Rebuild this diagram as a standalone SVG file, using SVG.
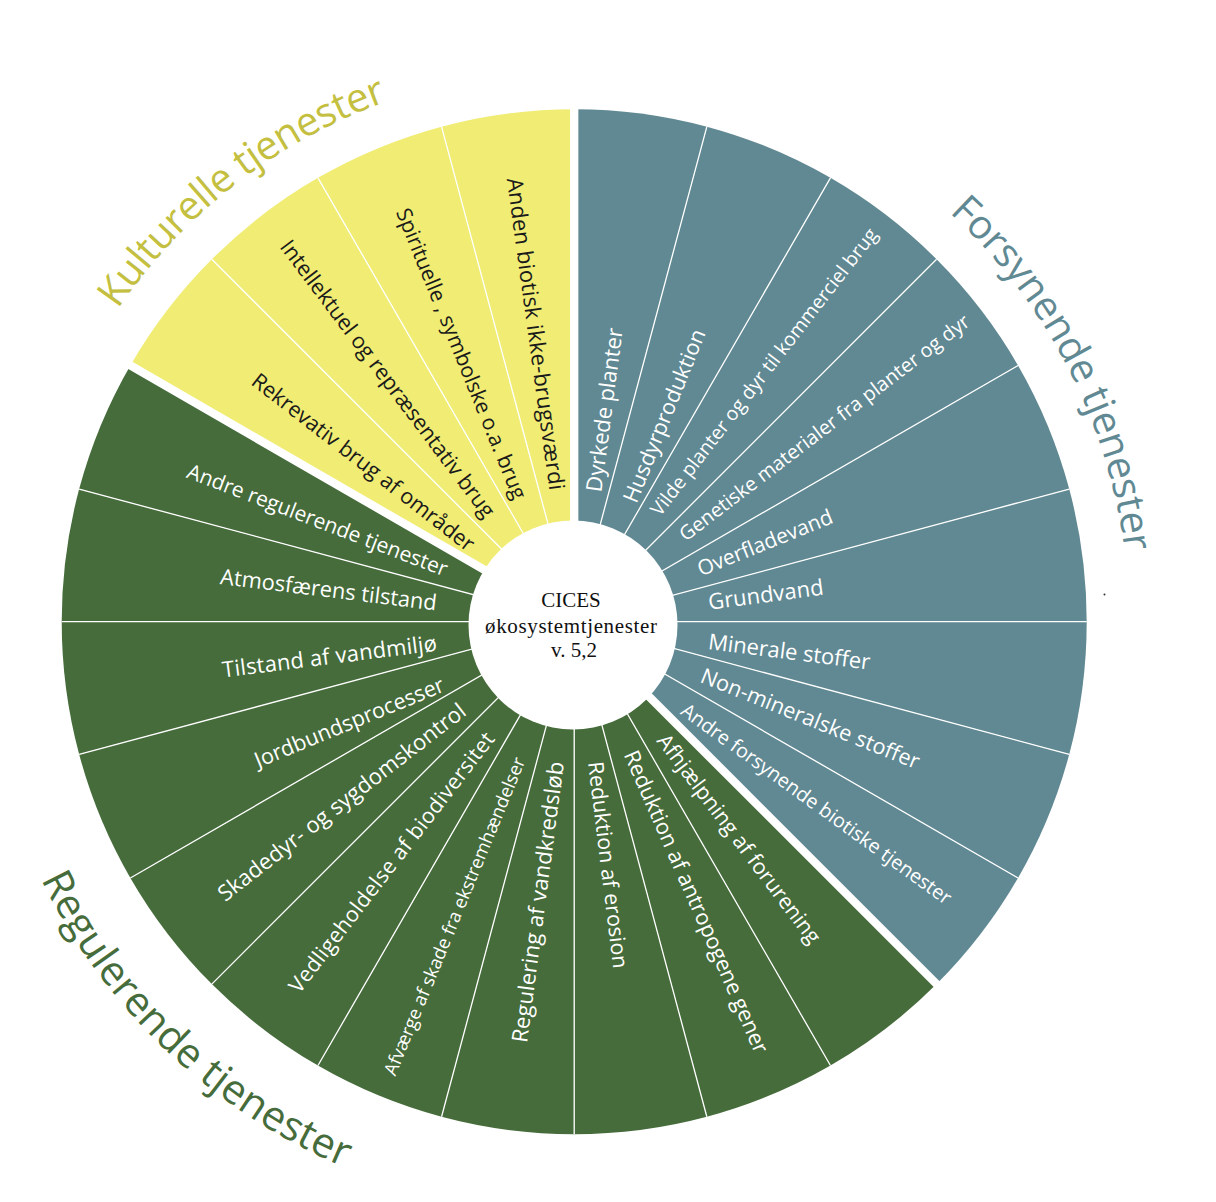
<svg xmlns="http://www.w3.org/2000/svg" width="1216" height="1202" viewBox="0 0 1216 1202">
<style>
.blue{fill:#618993}
.green{fill:#466c3b}
.yellow{fill:#f0ec74}
.sep{stroke:#ffffff;stroke-width:1.3;fill:none}
.gap{stroke:#ffffff;stroke-width:8.3;fill:none}
.lw{font-family:"Open Sans","DejaVu Sans",sans-serif;fill:#ffffff}
.lb{font-family:"Open Sans","DejaVu Sans",sans-serif;fill:#1a1a1a}
.title{font-family:"Open Sans","DejaVu Sans",sans-serif}
.ctr{font-family:"Liberation Serif","Times New Roman",serif;font-size:21px;fill:#111111;text-anchor:middle}
</style>
<defs>
<path id="arcF" d="M949.15,212.51 A555,555 0 0 1 1127.09,670.07"/>
<path id="arcK" d="M117.91,309.27 A553,553 0 0 1 478.17,77.1"/>
<path id="arcR" d="M41.21,879.36 A592,592 0 0 0 420.98,1193.53"/>
</defs>
<rect width="1216" height="1202" fill="#ffffff"/>

<!-- Forsynende (blue) -->
<g id="seg-dyrkede-planter"><path class="blue" d="M574.2,621.7 L574.2,109.2 A512.5,512.5 0 0 1 706.85,126.66 Z"/>
<text class="lw" font-size="22" textLength="165" lengthAdjust="spacing" dy="0.33em" transform="translate(594,491.7) rotate(-82.5)">Dyrkede planter</text></g>
<g id="seg-husdyrproduktion"><path class="blue" d="M574.2,621.7 L706.85,126.66 A512.5,512.5 0 0 1 830.45,177.86 Z"/>
<text class="lw" font-size="21.6" textLength="185" lengthAdjust="spacing" dy="0.33em" transform="translate(630,501.7) rotate(-68)">Husdyrproduktion</text></g>
<g id="seg-vilde-planter"><path class="blue" d="M574.2,621.7 L830.45,177.86 A512.5,512.5 0 0 1 936.59,259.31 Z"/>
<text class="lw" font-size="19.4" textLength="357" lengthAdjust="spacing" dy="0.33em" transform="translate(655,513.3) rotate(-52.3)">Vilde planter og dyr til kommerciel brug</text></g>
<g id="seg-genetiske"><path class="blue" d="M574.2,621.7 L936.59,259.31 A512.5,512.5 0 0 1 1018.04,365.45 Z"/>
<text class="lw" font-size="19.8" textLength="359" lengthAdjust="spacing" dy="0.33em" transform="translate(681.7,536.7) rotate(-37.3)">Genetiske materialer fra planter og dyr</text></g>
<g id="seg-overfladevand"><path class="blue" d="M574.2,621.7 L1018.04,365.45 A512.5,512.5 0 0 1 1069.24,489.06 Z"/>
<text class="lw" font-size="21" textLength="144" lengthAdjust="spacing" dy="0.33em" transform="translate(698.3,570) rotate(-22)">Overfladevand</text></g>
<g id="seg-grundvand"><path class="blue" d="M574.2,621.7 L1069.24,489.06 A512.5,512.5 0 0 1 1086.7,621.7 Z"/>
<text class="lw" font-size="22" textLength="116" lengthAdjust="spacing" dy="0.33em" transform="translate(708.3,602.5) rotate(-7.5)">Grundvand</text></g>
<g id="seg-minerale-stoffer"><path class="blue" d="M574.2,621.7 L1086.7,621.7 A512.5,512.5 0 0 1 1069.24,754.35 Z"/>
<text class="lw" font-size="22" textLength="163" lengthAdjust="spacing" dy="0.33em" transform="translate(708.3,641.7) rotate(7.3)">Minerale stoffer</text></g>
<g id="seg-non-mineralske"><path class="blue" d="M574.2,621.7 L1069.24,754.35 A512.5,512.5 0 0 1 1018.04,877.95 Z"/>
<text class="lw" font-size="21.7" textLength="234" lengthAdjust="spacing" dy="0.33em" transform="translate(701.7,675) rotate(22)">Non-mineralske stoffer</text></g>
<g id="seg-andre-forsynende"><path class="blue" d="M574.2,621.7 L1018.04,877.95 A512.5,512.5 0 0 1 936.59,984.09 Z"/>
<text class="lw" font-size="19.7" textLength="328" lengthAdjust="spacing" dy="0.33em" transform="translate(683.3,708.3) rotate(35.8)">Andre forsynende biotiske tjenester</text></g>

<!-- Regulerende (green) -->
<g id="seg-afhjaelpning"><path class="green" d="M574.2,621.7 L936.59,984.09 A512.5,512.5 0 0 1 830.45,1065.54 Z"/>
<text class="lw" font-size="21.4" textLength="256" lengthAdjust="spacing" dy="0.33em" transform="translate(661.7,736.7) rotate(53)">Afhjælpning af forurening</text></g>
<g id="seg-antropogene"><path class="green" d="M574.2,621.7 L830.45,1065.54 A512.5,512.5 0 0 1 706.85,1116.74 Z"/>
<text class="lw" font-size="21.7" textLength="328" lengthAdjust="spacing" dy="0.33em" transform="translate(630,751.7) rotate(66.3)">Reduktion af antropogene gener</text></g>
<g id="seg-erosion"><path class="green" d="M574.2,621.7 L706.85,1116.74 A512.5,512.5 0 0 1 574.2,1134.2 Z"/>
<text class="lw" font-size="21.4" textLength="208" lengthAdjust="spacing" dy="0.33em" transform="translate(595,761.7) rotate(83)">Reduktion af erosion</text></g>
<g id="seg-vandkredsloeb"><path class="green" d="M574.2,621.7 L574.2,1134.2 A512.5,512.5 0 0 1 441.56,1116.74 Z"/>
<text class="lw" font-size="22" textLength="283" lengthAdjust="spacing" text-anchor="end" dy="0.33em" transform="translate(556.7,761.7) rotate(-82.5)">Regulering af vandkredsløb</text></g>
<g id="seg-ekstremhaendelser"><path class="green" d="M574.2,621.7 L441.56,1116.74 A512.5,512.5 0 0 1 317.95,1065.54 Z"/>
<text class="lw" font-size="18.4" textLength="342" lengthAdjust="spacing" text-anchor="end" dy="0.33em" transform="translate(520,758.3) rotate(-67.6)">Afværge af skade fra ekstremhændelser</text></g>
<g id="seg-biodiversitet"><path class="green" d="M574.2,621.7 L317.95,1065.54 A512.5,512.5 0 0 1 211.81,984.09 Z"/>
<text class="lw" font-size="21.4" textLength="322" lengthAdjust="spacing" text-anchor="end" dy="0.33em" transform="translate(490,735) rotate(-52.4)">Vedligeholdelse af biodiversitet</text></g>
<g id="seg-skadedyr"><path class="green" d="M574.2,621.7 L211.81,984.09 A512.5,512.5 0 0 1 130.36,877.95 Z"/>
<text class="lw" font-size="22" textLength="307" lengthAdjust="spacing" text-anchor="end" dy="0.33em" transform="translate(463.3,708.3) rotate(-37.8)">Skadedyr- og sygdomskontrol</text></g>
<g id="seg-jordbund"><path class="green" d="M574.2,621.7 L130.36,877.95 A512.5,512.5 0 0 1 79.16,754.35 Z"/>
<text class="lw" font-size="21.6" textLength="203" lengthAdjust="spacing" text-anchor="end" dy="0.33em" transform="translate(443.3,684) rotate(-22.4)">Jordbundsprocesser</text></g>
<g id="seg-vandmiljoe"><path class="green" d="M574.2,621.7 L79.16,754.35 A512.5,512.5 0 0 1 61.7,621.7 Z"/>
<text class="lw" font-size="22" textLength="216" lengthAdjust="spacing" text-anchor="end" dy="0.33em" transform="translate(436.7,643.3) rotate(-7.2)">Tilstand af vandmiljø</text></g>
<g id="seg-atmosfaere"><path class="green" d="M574.2,621.7 L61.7,621.7 A512.5,512.5 0 0 1 79.16,489.06 Z"/>
<text class="lw" font-size="21.8" textLength="218" lengthAdjust="spacing" text-anchor="end" dy="0.33em" transform="translate(436.7,603.3) rotate(7)">Atmosfærens tilstand</text></g>
<g id="seg-andre-regulerende"><path class="green" d="M574.2,621.7 L79.16,489.06 A512.5,512.5 0 0 1 130.36,365.45 Z"/>
<text class="lw" font-size="21" textLength="277" lengthAdjust="spacing" text-anchor="end" dy="0.33em" transform="translate(446.7,570) rotate(21)">Andre regulerende tjenester</text></g>

<!-- Kulturelle (yellow) -->
<g id="seg-rekrevativ"><path class="yellow" d="M574.2,621.7 L130.36,365.45 A512.5,512.5 0 0 1 211.81,259.31 Z"/>
<text class="lb" font-size="21.5" textLength="275" lengthAdjust="spacing" text-anchor="end" dy="0.33em" transform="translate(471.7,546.7) rotate(37.8)">Rekrevativ brug af områder</text></g>
<g id="seg-intellektuel"><path class="yellow" d="M574.2,621.7 L211.81,259.31 A512.5,512.5 0 0 1 317.95,177.86 Z"/>
<text class="lb" font-size="21.6" textLength="341" lengthAdjust="spacing" text-anchor="end" dy="0.33em" transform="translate(490,515) rotate(53)">Intellektuel og repræsentativ brug</text></g>
<g id="seg-spirituelle"><path class="yellow" d="M574.2,621.7 L317.95,177.86 A512.5,512.5 0 0 1 441.56,126.66 Z"/>
<text class="lb" font-size="21.1" textLength="312" lengthAdjust="spacing" text-anchor="end" dy="0.33em" transform="translate(520,498.3) rotate(67.8)">Spirituelle , symbolske o.a. brug</text></g>
<g id="seg-anden-biotisk"><path class="yellow" d="M574.2,621.7 L441.56,126.66 A512.5,512.5 0 0 1 574.2,109.2 Z"/>
<text class="lb" font-size="22" textLength="315" lengthAdjust="spacing" text-anchor="end" dy="0.33em" transform="translate(556.7,490) rotate(82.2)">Anden biotisk ikke-brugsværdi</text></g>

<!-- separators -->
<g id="connectors">
<path class="sep" d="M574.2,621.7 L706.85,126.66 M574.2,621.7 L830.45,177.86 M574.2,621.7 L936.59,259.31 M574.2,621.7 L1018.04,365.45 M574.2,621.7 L1069.24,489.06 M574.2,621.7 L1086.7,621.7 M574.2,621.7 L1069.24,754.35 M574.2,621.7 L1018.04,877.95"/>
<path class="sep" d="M574.2,621.7 L830.45,1065.54 M574.2,621.7 L706.85,1116.74 M574.2,621.7 L574.2,1134.2 M574.2,621.7 L441.56,1116.74 M574.2,621.7 L317.95,1065.54 M574.2,621.7 L211.81,984.09 M574.2,621.7 L130.36,877.95 M574.2,621.7 L79.16,754.35 M574.2,621.7 L61.7,621.7 M574.2,621.7 L79.16,489.06"/>
<path class="sep" d="M574.2,621.7 L211.81,259.31 M574.2,621.7 L317.95,177.86 M574.2,621.7 L441.56,126.66"/>
<path class="gap" d="M574.2,621.7 L574.2,96 M574.2,621.7 L945.4,992.9 M574.2,621.7 L119.5,359.2"/>
</g>

<!-- centre -->
<g id="centre">
<circle cx="573" cy="625" r="104.5" fill="#ffffff"/>
<text class="ctr" x="571" y="606.7">CICES</text>
<text class="ctr" x="571" y="633" textLength="172" lengthAdjust="spacing">økosystemtjenester</text>
<text class="ctr" x="574" y="656.7">v. 5,2</text>
</g>

<!-- group titles -->
<g id="title-forsynende"><text class="title" font-size="40" fill="#618993"><textPath href="#arcF" textLength="390" lengthAdjust="spacing">Forsynende tjenester</textPath></text></g>
<g id="title-kulturelle"><text class="title" font-size="40" fill="#c4bf40"><textPath href="#arcK" textLength="346" lengthAdjust="spacing">Kulturelle tjenester</textPath></text></g>
<g id="title-regulerende"><text class="title" font-size="41" fill="#466c3b"><textPath href="#arcR" textLength="427" lengthAdjust="spacing">Regulerende tjenester</textPath></text></g>

<circle cx="1104.5" cy="594.5" r="1" fill="#333333"/>
</svg>
